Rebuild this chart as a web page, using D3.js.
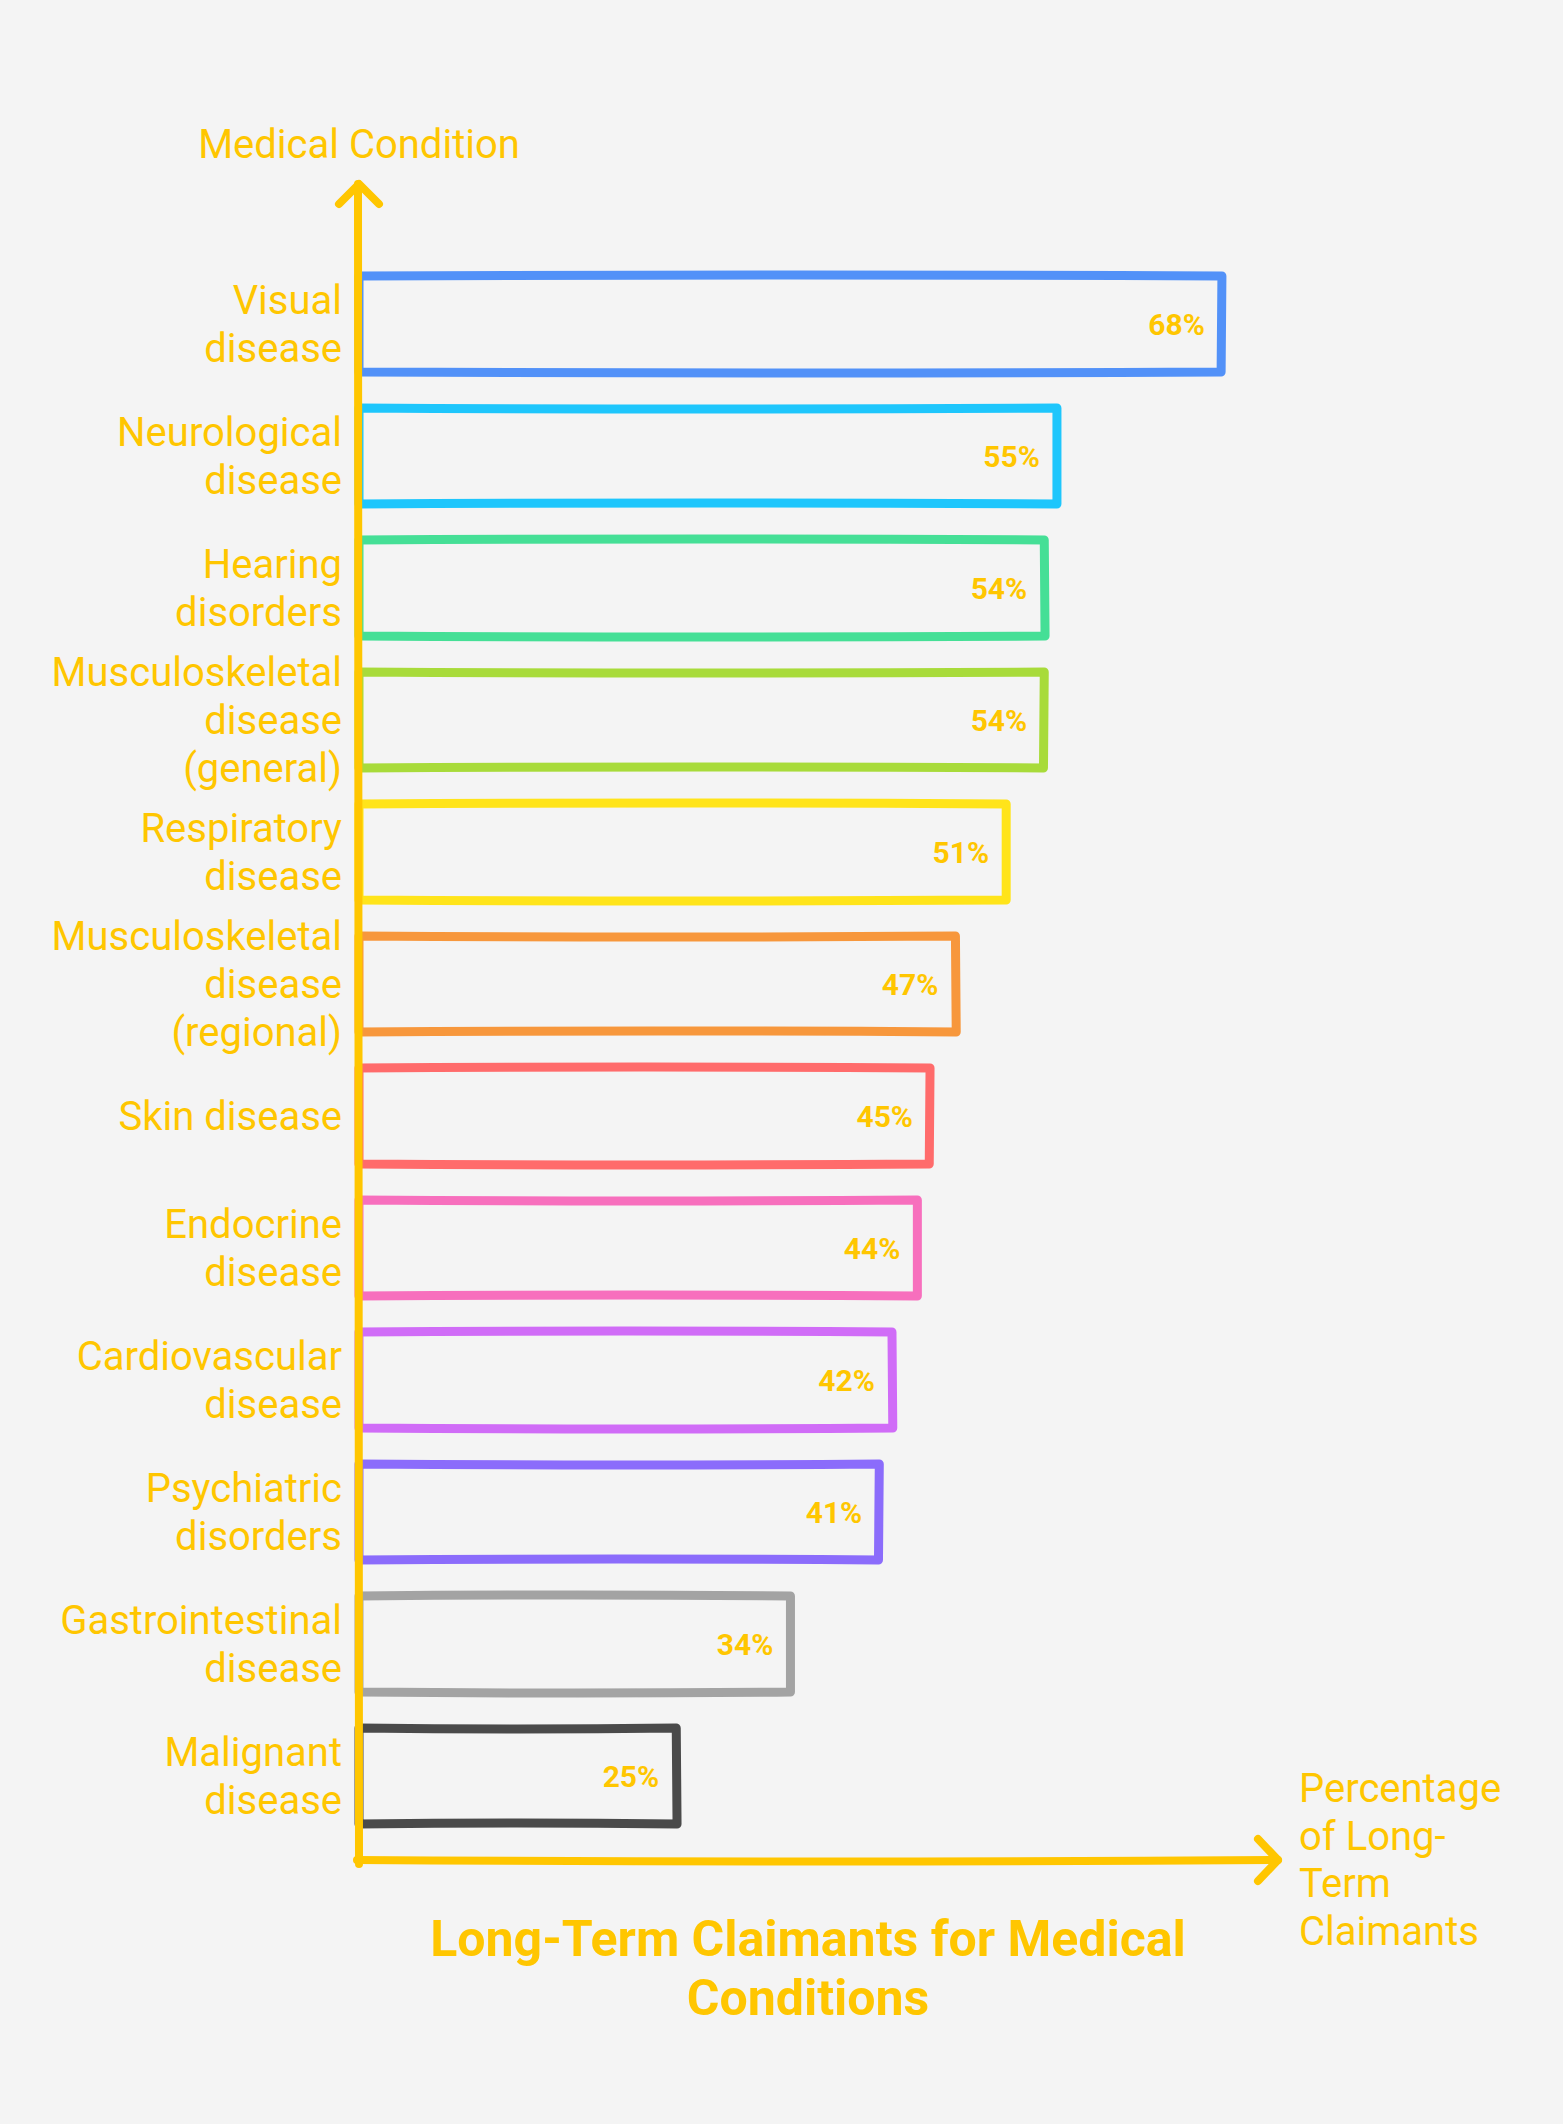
<!DOCTYPE html>
<html>
<head>
<meta charset="utf-8">
<script src="https://cdn.jsdelivr.net/npm/d3@7"></script>
<style>
  html, body { margin: 0; padding: 0; background: #f4f4f4; }
  svg { display: block; }
  text { font-family: Roboto, "Noto Sans", sans-serif; }
</style>
</head>
<body>
<script>
// ---- data ----
const categories = [
  "Visual disease",
  "Neurological disease",
  "Hearing disorders",
  "Musculoskeletal disease (general)",
  "Respiratory disease",
  "Musculoskeletal disease (regional)",
  "Skin disease",
  "Endocrine disease",
  "Cardiovascular disease",
  "Psychiatric disorders",
  "Gastrointestinal disease",
  "Malignant disease"
];
const labelLines = [
  ["Visual", "disease"],
  ["Neurological", "disease"],
  ["Hearing", "disorders"],
  ["Musculoskeletal", "disease", "(general)"],
  ["Respiratory", "disease"],
  ["Musculoskeletal", "disease", "(regional)"],
  ["Skin disease"],
  ["Endocrine", "disease"],
  ["Cardiovascular", "disease"],
  ["Psychiatric", "disorders"],
  ["Gastrointestinal", "disease"],
  ["Malignant", "disease"]
];
const values = [68, 55, 54, 54, 51, 47, 45, 44, 42, 41, 34, 25];
const colors = ["#5291f8", "#1ec6fc", "#45df96", "#a8db3a", "#ffe41a", "#f7973c",
                "#ff6b6b", "#f76fbd", "#d06cf7", "#8b6cfb", "#a3a3a3", "#4a4a4a"];
const titleLines = ["Long-Term Claimants for Medical", "Conditions"];
const yTitle = "Medical Condition";
const xTitleLines = ["Percentage", "of Long-", "Term", "Claimants"];

// ---- layout ----
const W = 1563, H = 2124;
const gold = "#ffc600";
const x0 = 359;

const svg = d3.select("body").append("svg").attr("width", W).attr("height", H);
svg.append("rect").attr("width", W).attr("height", H).attr("fill", "#f4f4f4");

const x = d3.scaleLinear().domain([0, 100]).range([x0, x0 + 1269]);
const y = d3.scaleBand().domain(categories).range([258, 1842])
  .paddingInner(0.273).paddingOuter(0.1365);

// sketchy rectangle path (gentle bows on horizontal edges)
function sketchRect(xa, xb, ya, yb, i) {
  const bow = (i % 2 === 0) ? 2 : -2;
  const p = d3.path();
  p.moveTo(xa, ya);
  p.quadraticCurveTo((xa + xb) / 2, ya - bow, xb, ya);
  p.lineTo(xb + (i % 3 - 1) * 0.8, yb);
  p.quadraticCurveTo((xa + xb) / 2, yb + bow, xa, yb);
  p.closePath();
  return p.toString();
}

const bars = svg.append("g");
bars.selectAll("path")
  .data(categories)
  .join("path")
  .attr("d", (c, i) => sketchRect(x(0), x(values[i]), y(c), y(c) + y.bandwidth(), i))
  .attr("fill", "none")
  .attr("stroke", (c, i) => colors[i])
  .attr("stroke-width", 9)
  .attr("stroke-linejoin", "round")
  .attr("stroke-linecap", "round");

// value labels
svg.append("g").selectAll("text")
  .data(categories)
  .join("text")
  .attr("x", (c, i) => x(values[i]) - 17)
  .attr("y", c => y(c) + y.bandwidth() / 2 + 11)
  .attr("text-anchor", "end")
  .attr("font-size", 30)
  .attr("font-weight", 700)
  .attr("fill", gold)
  .text((c, i) => values[i] + "%");

// category labels
const lh = 48;
const lab = svg.append("g");
categories.forEach((c, i) => {
  const lines = labelLines[i];
  const cy = y(c) + y.bandwidth() / 2;
  const t = lab.append("text")
    .attr("text-anchor", "end")
    .attr("font-size", 40)
    .attr("fill", gold);
  lines.forEach((ln, k) => {
    t.append("tspan")
      .attr("x", 342)
      .attr("y", cy - (lines.length - 1) / 2 * lh + 14 + k * lh)
      .text(ln);
  });
});

// axes
const axisG = svg.append("g").attr("fill", "none").attr("stroke", gold)
  .attr("stroke-width", 8).attr("stroke-linecap", "round").attr("stroke-linejoin", "round");
const yAxisTop = 184, xAxisY = 1860, xAxisEnd = 1278;
axisG.append("path").attr("d", `M${x0},${xAxisY + 4} L${x0 - 1},${yAxisTop}`);
axisG.append("path").attr("d", `M${x0 - 20},${yAxisTop + 20} L${x0},${yAxisTop} L${x0 + 20},${yAxisTop + 20}`);
axisG.append("path").attr("d", `M${x0 - 2},${xAxisY} Q${(x0 + xAxisEnd) / 2},${xAxisY + 3} ${xAxisEnd},${xAxisY}`);
axisG.append("path").attr("d", `M${xAxisEnd - 20},${xAxisY - 21} L${xAxisEnd},${xAxisY} L${xAxisEnd - 20},${xAxisY + 21}`);

// axis titles
svg.append("text")
  .attr("x", x0).attr("y", 158)
  .attr("text-anchor", "middle")
  .attr("font-size", 40)
  .attr("fill", gold)
  .text(yTitle);

const xt = svg.append("text").attr("font-size", 40).attr("fill", gold);
xTitleLines.forEach((ln, k) => {
  xt.append("tspan").attr("x", 1299).attr("y", 1802 + k * 47.5).text(ln);
});

// chart title
const tt = svg.append("text")
  .attr("text-anchor", "middle")
  .attr("font-size", 50)
  .attr("font-weight", 700)
  .attr("fill", gold);
titleLines.forEach((ln, k) => {
  tt.append("tspan").attr("x", 808).attr("y", 1956 + k * 59).text(ln);
});
</script>
</body>
</html>
